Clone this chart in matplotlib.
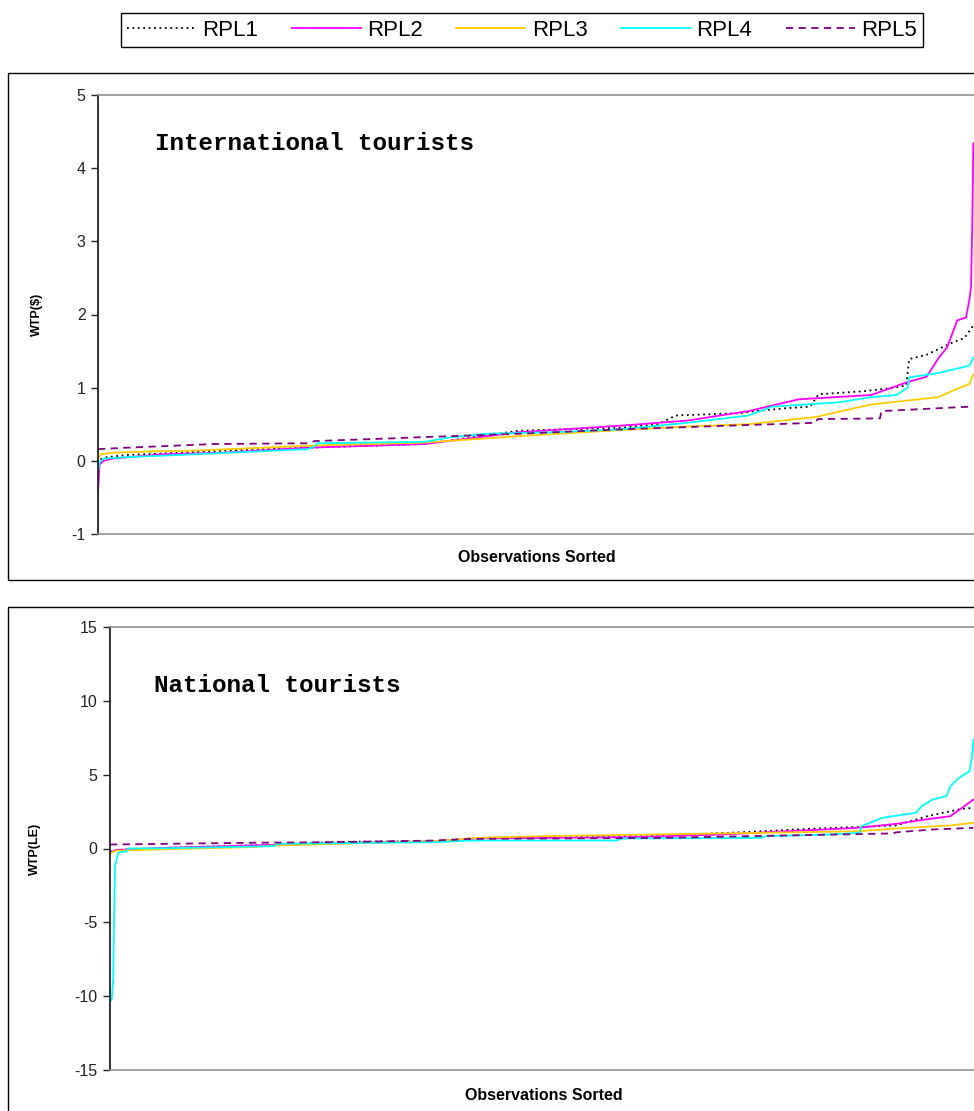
import matplotlib
matplotlib.use("Agg")
import matplotlib.pyplot as plt
from matplotlib.patches import Rectangle

plt.rcParams['font.family'] = ['Liberation Sans', 'DejaVu Sans']
plt.rcParams['axes.unicode_minus'] = False

# series names / styles
labels = ["RPL1", "RPL2", "RPL3", "RPL4", "RPL5"]
colors = ["black", "#FF00FF", "#FFCC00", "#00FFFF", "#800080"]
styles = [(0, (1, 2)), "-", "-", "-", (0, (4, 3))]

# International tourists, WTP($) by sorted observation
intl_rpl1_x = [0, 1, 3, 10, 22, 44, 72, 112, 144, 158, 179, 192, 198, 219, 228, 236, 244, 247, 262, 271, 277, 278, 284, 293, 297, 300]
intl_rpl1_y = [-0.05, 0.02, 0.05, 0.08, 0.10, 0.14, 0.18, 0.23, 0.41, 0.43, 0.45, 0.50, 0.62, 0.65, 0.69, 0.72, 0.74, 0.91, 0.95, 0.99, 1.03, 1.39, 1.45, 1.62, 1.68, 1.85]
intl_rpl2_x = [0, 0.5, 2, 5, 22, 42, 72, 112, 144, 179, 202, 223, 240, 265, 277, 284, 288, 291, 294.5, 297.5, 298.6, 299.2, 299.6, 300]
intl_rpl2_y = [-0.45, -0.05, 0.0, 0.03, 0.09, 0.11, 0.18, 0.23, 0.39, 0.48, 0.55, 0.68, 0.84, 0.90, 1.07, 1.15, 1.40, 1.55, 1.92, 1.96, 2.19, 2.37, 3.15, 4.34]
intl_rpl3_x = [0, 1, 5, 19, 33, 51, 74, 112, 145, 179, 202, 223, 246, 265, 288, 293, 298.6, 300]
intl_rpl3_y = [0.03, 0.09, 0.11, 0.13, 0.14, 0.17, 0.21, 0.25, 0.34, 0.42, 0.47, 0.50, 0.60, 0.77, 0.87, 0.96, 1.05, 1.18]
intl_rpl4_x = [0, 0.5, 2, 10, 33, 72, 74.3, 75, 112, 120.5, 133, 156, 179, 202, 223, 231, 254, 265, 273.6, 277.5, 278, 288, 298.6, 300]
intl_rpl4_y = [-0.15, -0.02, 0.03, 0.05, 0.09, 0.16, 0.20, 0.24, 0.26, 0.32, 0.37, 0.39, 0.43, 0.52, 0.62, 0.74, 0.80, 0.87, 0.90, 1.00, 1.14, 1.20, 1.30, 1.41]
intl_rpl5_x = [0, 10, 40, 72, 74.3, 102.7, 108.6, 144.5, 178.8, 223, 246, 246.6, 268, 268.5, 298.6, 300]
intl_rpl5_y = [0.16, 0.18, 0.23, 0.24, 0.27, 0.31, 0.32, 0.37, 0.43, 0.49, 0.52, 0.57, 0.58, 0.68, 0.74, 0.76]

# National tourists, WTP(LE)
nat_rpl1_x = [0, 2, 20, 57, 79, 113, 128, 192, 215, 243, 273, 284, 296, 300]
nat_rpl1_y = [-0.2, -0.1, 0.05, 0.25, 0.45, 0.5, 0.72, 0.88, 1.06, 1.33, 1.56, 2.19, 2.69, 2.75]
nat_rpl2_x = [0, 2, 20, 57, 113, 128, 181, 213, 228, 260, 274, 282, 292, 296, 300]
nat_rpl2_y = [-0.3, -0.1, 0.05, 0.25, 0.5, 0.68, 0.77, 0.95, 1.10, 1.40, 1.69, 1.93, 2.19, 2.75, 3.32]
nat_rpl3_x = [0, 2, 20, 50, 57, 113, 128, 149, 226, 260, 277, 292, 300]
nat_rpl3_y = [-0.35, -0.15, -0.05, 0.1, 0.2, 0.5, 0.72, 0.83, 1.06, 1.17, 1.40, 1.56, 1.74]
nat_rpl4_x = [0.3, 0.6, 1.1, 1.7, 2.9, 5.8, 6.3, 20, 57, 58.3, 113, 125, 176, 178, 226, 228, 250, 260.4, 261, 268.4, 280, 282, 285.8, 290.6, 292, 295, 298.6, 299.5, 300]
nat_rpl4_y = [-10.3, -10.2, -8.9, -1.2, -0.29, -0.2, 0.0, 0.02, 0.16, 0.32, 0.43, 0.54, 0.54, 0.68, 0.72, 0.83, 0.95, 1.06, 1.51, 2.08, 2.42, 2.87, 3.32, 3.54, 4.22, 4.79, 5.23, 6.2, 7.38]
nat_rpl5_x = [0, 50, 79, 113, 125, 157, 192, 226, 272, 273.3, 286, 300]
nat_rpl5_y = [0.27, 0.39, 0.43, 0.54, 0.65, 0.68, 0.72, 0.85, 1.02, 1.10, 1.29, 1.40]

intl_x = [intl_rpl1_x, intl_rpl2_x, intl_rpl3_x, intl_rpl4_x, intl_rpl5_x]
intl_y = [intl_rpl1_y, intl_rpl2_y, intl_rpl3_y, intl_rpl4_y, intl_rpl5_y]
nat_x = [nat_rpl1_x, nat_rpl2_x, nat_rpl3_x, nat_rpl4_x, nat_rpl5_x]
nat_y = [nat_rpl1_y, nat_rpl2_y, nat_rpl3_y, nat_rpl4_y, nat_rpl5_y]

W, H = 974, 1111
fig = plt.figure(figsize=(W / 100, H / 100), dpi=100)


def px(x0, y0, x1, y1):
    # pixel box (top-left origin) -> figure fraction rect
    return [x0 / W, 1 - y1 / H, (x1 - x0) / W, (y1 - y0) / H]


# outer chart frames (run off the right/bottom edge like the original)
fig.add_artist(Rectangle((8 / W, 1 - 580 / H), 1.2, (580 - 73) / H,
                         transform=fig.transFigure, fill=False, lw=1, ec="black"))
fig.add_artist(Rectangle((8 / W, -0.2), 1.2, 0.2 + 1 - 607 / H,
                         transform=fig.transFigure, fill=False, lw=1, ec="black"))


def style_axes(ax, ylim, yticks):
    ax.set_xlim(0, 304)
    ax.set_ylim(*ylim)
    ax.set_yticks(yticks)
    ax.set_xticks([])
    for s in ("top", "bottom"):
        ax.spines[s].set_color("#909090")
        ax.spines[s].set_linewidth(1.2)
    ax.spines["right"].set_visible(False)
    ax.spines["left"].set_color("#222222")
    ax.spines["left"].set_linewidth(1.3)
    ax.tick_params(axis="y", direction="out", length=5, width=1, pad=4,
                   labelsize=11.5, colors="#222222")


ax1 = fig.add_axes(px(98, 95, 985, 534))
lines = []
for xs, ys, c, ls, lab in zip(intl_x, intl_y, colors, styles, labels):
    ln, = ax1.plot(xs, ys, color=c, ls=ls, lw=1.3, label=lab)
    lines.append(ln)
style_axes(ax1, (-1, 5), range(-1, 6))

ax2 = fig.add_axes(px(110, 627, 985, 1070))
for xs, ys, c, ls in zip(nat_x, nat_y, colors, styles):
    ax2.plot(xs, ys, color=c, ls=ls, lw=1.3)
style_axes(ax2, (-15, 15), range(-15, 16, 5))

# titles inside plots
fig.text(155 / W, 1 - 143 / H, "International tourists", family="Liberation Mono",
         weight="bold", fontsize=17.5, va="center", ha="left")
fig.text(154 / W, 1 - 686 / H, "National tourists", family="Liberation Mono",
         weight="bold", fontsize=17.5, va="center", ha="left")

# axis labels
fig.text(37 / W, 1 - 314 / H, "WTP($)", rotation=90, weight="bold", fontsize=9,
         ha="center", va="center")
fig.text(35 / W, 1 - 849 / H, "WTP(LE)", rotation=90, weight="bold", fontsize=9,
         ha="center", va="center")
fig.text(537 / W, 1 - 558 / H, "Observations Sorted", weight="bold", fontsize=11.5,
         ha="center", va="center")
fig.text(544 / W, 1 - 1095 / H, "Observations Sorted", weight="bold", fontsize=11.5,
         ha="center", va="center")

leg = fig.legend(lines, labels, ncol=5, loc="center", bbox_to_anchor=(522 / W, 1 - 30 / H),
                 frameon=True, fancybox=False, edgecolor="black", framealpha=1,
                 fontsize=16, handlelength=3.1, handletextpad=0.3, columnspacing=1.5,
                 borderpad=0.28, borderaxespad=0)
leg.get_frame().set_linewidth(1)

fig.savefig("out.png", dpi=100)
